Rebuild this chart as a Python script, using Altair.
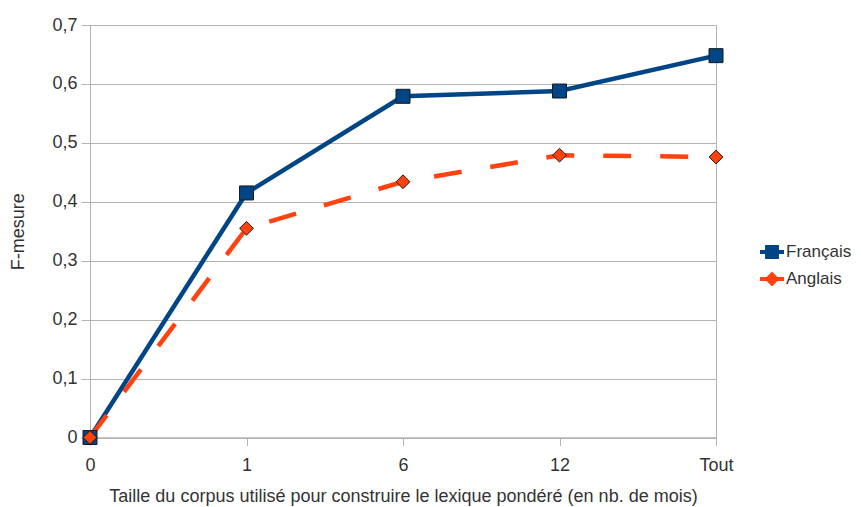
import altair as alt
import pandas as pd

categories = ["0", "1", "6", "12", "Tout"]
francais = [0.0, 0.415, 0.579, 0.588, 0.648]
anglais = [0.0, 0.355, 0.434, 0.479, 0.476]
series_names = ["Français", "Anglais"]
colors = ["#004586", "#ff420e"]
y_ticks = [0.0, 0.1, 0.2, 0.3, 0.4, 0.5, 0.6, 0.7]

rows = []
for c, v in zip(categories, francais):
    rows.append({"x": c, "y": v, "series": "Français"})
for c, v in zip(categories, anglais):
    rows.append({"x": c, "y": v, "series": "Anglais"})
df = pd.DataFrame(rows)

FONT = "Liberation Sans"
TXT = "#333333"
GRID = "#b3b3b3"

x_enc = alt.X(
    "x:N",
    sort=categories,
    scale=alt.Scale(type="point", padding=0),
    axis=alt.Axis(
        title="Taille du corpus utilisé pour construire le lexique pondéré (en nb. de mois)",
        labelAngle=0,
        tickSize=8,
        labelPadding=11,
        titlePadding=13,
        grid=False,
    ),
)
y_enc = alt.Y(
    "y:Q",
    scale=alt.Scale(domain=[0, 0.7], nice=False, zero=True),
    axis=alt.Axis(
        title="F-mesure",
        values=y_ticks,
        labelExpr="replace(format(datum.value, '.1~f'), '.', ',')",
        tickSize=9,
        labelPadding=4,
        titlePadding=24,
        grid=True,
    ),
)

base = alt.Chart(df)

line_fr = base.transform_filter(alt.datum.series == "Français").mark_line(
    color=colors[0], strokeWidth=4.5, strokeCap="butt", strokeJoin="miter"
).encode(x=x_enc, y=y_enc)

line_en = base.transform_filter(alt.datum.series == "Anglais").mark_line(
    color=colors[1], strokeWidth=4.5, strokeDash=[28, 29], strokeCap="butt"
).encode(x=x_enc, y=y_enc)

pts_fr = base.transform_filter(alt.datum.series == "Français").mark_point(
    shape="square", size=196, filled=True, fill=colors[0], stroke="#1a1a1a",
    strokeWidth=1, opacity=1
).encode(x=x_enc, y=y_enc)

pts_en = base.transform_filter(alt.datum.series == "Anglais").mark_point(
    shape="diamond", size=190, filled=True, fill=colors[1], stroke="#1a1a1a",
    strokeWidth=1, opacity=1
).encode(x=x_enc, y=y_enc)

sq_path = "M-1,-0.17H-0.58V-0.58H0.58V-0.17H1V0.17H0.58V0.58H-0.58V0.17H-1Z"
dm_path = "M-1,-0.17H-0.45L0,-0.62L0.45,-0.17H1V0.17H0.45L0,0.62L-0.45,0.17H-1Z"

leg = dict(
    title=None, orient="none", legendX=670, legendY=215, padding=0,
    symbolOpacity=1, symbolSize=576, symbolStrokeWidth=0, labelOffset=2,
    rowPadding=7, labelFont=FONT, labelFontSize=17, labelColor=TXT,
)

legend_layer = base.mark_point(filled=True, opacity=0, size=576).encode(
    x=x_enc,
    y=y_enc,
    color=alt.Color(
        "series:N",
        scale=alt.Scale(domain=series_names, range=colors),
        legend=alt.Legend(**leg),
    ),
    shape=alt.Shape(
        "series:N",
        scale=alt.Scale(domain=series_names, range=[sq_path, dm_path]),
        legend=alt.Legend(**leg),
    ),
)

chart = alt.layer(line_fr, line_en, pts_fr, pts_en, legend_layer).properties(
    width=626,
    height=412.5,
    background="white",
    autosize=alt.AutoSizeParams(type="none"),
    padding={"left": 82, "top": 17, "right": 137, "bottom": 69},
).configure_view(
    stroke=GRID, strokeWidth=1
).configure_axis(
    labelFont=FONT,
    titleFont=FONT,
    labelFontSize=18,
    titleFontSize=18,
    titleFontWeight="normal",
    labelColor=TXT,
    titleColor=TXT,
    gridColor=GRID,
    gridWidth=1,
    domainColor=GRID,
    domainWidth=1,
    tickColor=GRID,
    tickWidth=1,
)

chart.save("out.html", embed_options={"renderer": "svg", "actions": False})
